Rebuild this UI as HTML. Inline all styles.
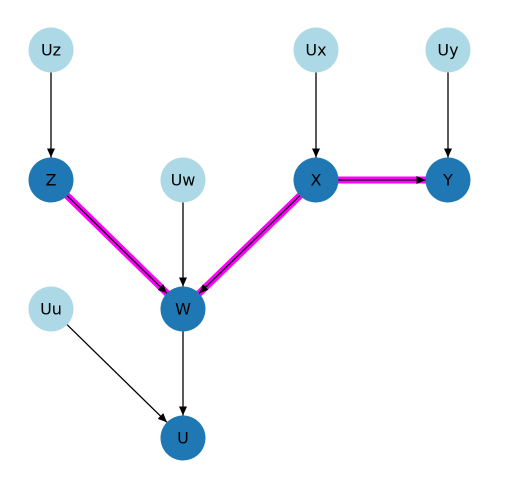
<!DOCTYPE html>
<html><head><style>html,body{margin:0;padding:0;background:#fff}svg{display:block}</style></head>
<body>
<svg width="516" height="493" viewBox="0 0 516 493" xmlns="http://www.w3.org/2000/svg">
<defs>
<marker id="a" markerUnits="userSpaceOnUse" markerWidth="10" markerHeight="8" refX="9" refY="4" orient="auto">
<path d="M0,0 L9,4 L0,8 Z" fill="#000"/>
</marker>
</defs>
<g stroke="#ff00ff" stroke-width="7" fill="none">
<line x1="51" y1="180" x2="183" y2="309"/>
<line x1="316" y1="180" x2="183" y2="309"/>
<line x1="316" y1="180" x2="448" y2="180"/>
</g>
<g stroke="#000" stroke-width="1.3" fill="none" marker-end="url(#a)">
<line x1="67.1" y1="195.7" x2="166.9" y2="293.3"/>
<line x1="299.8" y1="195.7" x2="199.2" y2="293.3"/>
<line x1="338.5" y1="180" x2="425.5" y2="180"/>
<line x1="51" y1="72.5" x2="51" y2="157.5"/>
<line x1="316" y1="72.5" x2="316" y2="157.5"/>
<line x1="448" y1="72.5" x2="448" y2="157.5"/>
<line x1="183" y1="202.5" x2="183" y2="286.5"/>
<line x1="183" y1="331.5" x2="183" y2="415.5"/>
<line x1="67.1" y1="324.7" x2="166.9" y2="422.3"/>
</g>
<g fill="#add8e6">
<circle cx="51" cy="50" r="22.5"/><circle cx="316" cy="50" r="22.5"/><circle cx="448" cy="50" r="22.5"/>
<circle cx="183" cy="180" r="22.5"/><circle cx="51" cy="309" r="22.5"/>
</g>
<g fill="#1f78b4">
<circle cx="51" cy="180" r="22.5"/><circle cx="316" cy="180" r="22.5"/><circle cx="448" cy="180" r="22.5"/>
<circle cx="183" cy="309" r="22.5"/><circle cx="183" cy="438" r="22.5"/>
</g>
<g font-family="'DejaVu Sans','Liberation Sans',sans-serif" font-size="16" text-anchor="middle" dominant-baseline="central" fill="#000">
<text x="51" y="50">Uz</text><text x="316" y="50">Ux</text><text x="448" y="50">Uy</text>
<text x="51" y="180">Z</text><text x="183" y="180">Uw</text><text x="316" y="180">X</text><text x="448" y="180">Y</text>
<text x="51" y="309">Uu</text><text x="183" y="309">W</text><text x="183" y="438">U</text>
</g>
</svg>
</body></html>
